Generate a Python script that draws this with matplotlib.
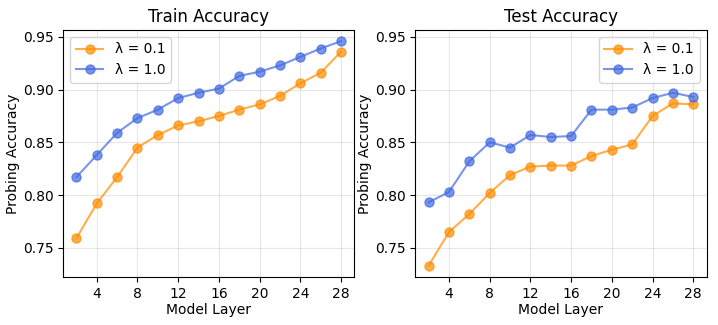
import numpy as np
import matplotlib.pyplot as plt

layers = np.arange(2, 29, 2)

train_01 = [0.759, 0.792, 0.817, 0.845, 0.857, 0.866, 0.870, 0.875, 0.881, 0.886, 0.894, 0.906, 0.916, 0.936]
train_10 = [0.817, 0.838, 0.859, 0.873, 0.881, 0.892, 0.897, 0.901, 0.913, 0.917, 0.923, 0.931, 0.939, 0.946]
test_01 = [0.733, 0.765, 0.782, 0.802, 0.819, 0.827, 0.828, 0.828, 0.837, 0.843, 0.848, 0.875, 0.887, 0.886]
test_10 = [0.793, 0.803, 0.832, 0.850, 0.845, 0.857, 0.855, 0.856, 0.881, 0.881, 0.883, 0.892, 0.897, 0.893]

fig, axes = plt.subplots(1, 2, figsize=(7.18, 3.25), dpi=100, sharey=True)

panels = [("Train Accuracy", train_01, train_10, "upper left"),
          ("Test Accuracy", test_01, test_10, "upper right")]

for ax, (title, s01, s10, loc) in zip(axes, panels):
    ax.plot(layers, s01, 'o-', color='darkorange', alpha=0.7, markersize=6.5, label='λ = 0.1')
    ax.plot(layers, s10, 'o-', color='royalblue', alpha=0.7, markersize=6.5, label='λ = 1.0')
    ax.set_title(title, fontsize=12)
    ax.set_xlabel('Model Layer', labelpad=2)
    ax.set_ylabel('Probing Accuracy', labelpad=2)
    ax.set_xticks(np.arange(4, 29, 4))
    ax.grid(True, alpha=0.3)
    ax.legend(loc=loc)
    ax.tick_params(labelleft=True)

plt.subplots_adjust(left=0.088, right=0.984, top=0.908, bottom=0.148, wspace=0.21)
plt.savefig('out.png')
